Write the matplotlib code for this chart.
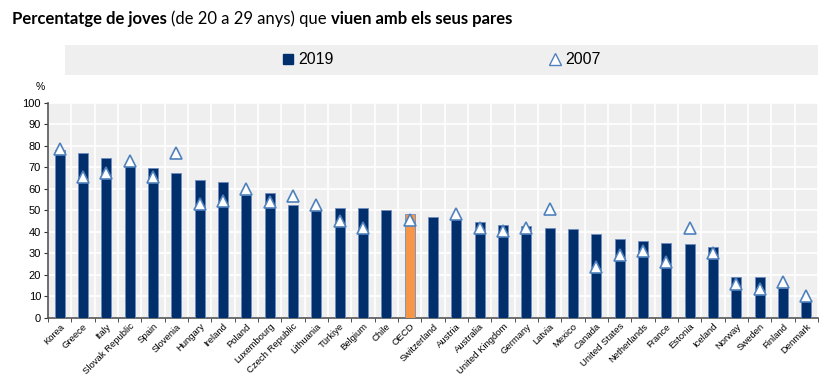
import matplotlib
matplotlib.use("Agg")
import numpy as np
import matplotlib.pyplot as plt
from matplotlib.lines import Line2D
from matplotlib.patches import Rectangle

countries = ["Korea", "Greece", "Italy", "Slovak Republic", "Spain", "Slovenia",
             "Hungary", "Ireland", "Poland", "Luxembourg", "Czech Republic",
             "Lithuania", "Türkiye", "Belgium", "Chile", "OECD", "Switzerland",
             "Austria", "Australia", "United Kingdom", "Germany", "Latvia",
             "Mexico", "Canada", "United States", "Netherlands", "France",
             "Estonia", "Iceland", "Norway", "Sweden", "Finland", "Denmark"]
share_2019 = [77.8, 76.6, 74.3, 70.5, 69.5, 67.4, 63.9, 63.3, 57.0, 58.1, 52.4,
              50.4, 51.0, 50.9, 50.1, 48.2, 46.8, 45.7, 44.3, 43.3, 42.6, 41.9,
              41.1, 38.8, 36.4, 35.5, 34.9, 34.4, 32.9, 19.1, 19.1, 14.0, 8.2]
share_2007 = [78.5, 65.3, 67.1, 73.0, 65.6, 76.7, 52.9, 54.4, 59.7, 53.8, 56.6,
              52.4, 45.1, 41.7, np.nan, 45.6, np.nan, 48.4, 41.6, 40.3, 41.6, 50.7,
              np.nan, 23.7, 29.1, 30.9, 25.7, 41.7, 29.9, 15.7, 13.2, 16.4, 10.2]
highlight = "OECD"

NAVY = "#002F6C"
ORANGE = "#F79646"
TRI = "#4F81BD"
BG = "#EFEFEF"

plt.rcParams["font.family"] = ["Liberation Sans Narrow", "Liberation Sans", "DejaVu Sans"]

fig = plt.figure(figsize=(8.3, 3.79), dpi=100)
ax = fig.add_axes([48 / 830, 61.3 / 379, 770 / 830, 215 / 379])
ax.set_facecolor(BG)

x = np.arange(len(countries))
colors = [ORANGE if c == highlight else NAVY for c in countries]
ax.bar(x, share_2019, width=0.42, color=colors, edgecolor="#6E8DBF",
       linewidth=0.6, zorder=3)
ax.plot(x, share_2007, linestyle="none", marker="^", markersize=9,
        markerfacecolor="white", markeredgecolor=TRI, markeredgewidth=1.2,
        zorder=4)

ax.set_xlim(-0.5, len(countries) - 0.5)
ax.set_ylim(0, 100)
ax.set_yticks(np.arange(0, 101, 10))
ax.set_xticks(x)
ax.set_xticklabels(countries, rotation=45, ha="right", rotation_mode="anchor",
                   fontsize=6.8)
ax.set_xticks(np.arange(-0.5, len(countries), 1), minor=True)
ax.tick_params(axis="x", which="major", length=0, pad=3)
ax.tick_params(axis="x", which="minor", length=3, color="#333333")
ax.tick_params(axis="y", length=3, labelsize=8, color="#333333", pad=2)
ax.grid(axis="y", which="major", color="white", linewidth=1.2, zorder=1)
ax.grid(axis="x", which="minor", color="white", linewidth=1.2, zorder=1)
ax.set_axisbelow(True)
for s in ["top", "right"]:
    ax.spines[s].set_visible(False)
for s in ["left", "bottom"]:
    ax.spines[s].set_color("#555555")
    ax.spines[s].set_linewidth(1.2)

fig.text(40 / 830, 1 - 87 / 379, "%", fontsize=7.5, ha="center", va="center")

# legend band
fig.patches.append(Rectangle((65 / 830, 1 - 75 / 379), 753 / 830, 30 / 379,
                             transform=fig.transFigure, facecolor=BG,
                             edgecolor="none", zorder=0))
handles = [Line2D([], [], linestyle="none", marker="s", markersize=7,
                  color=NAVY),
           Line2D([], [], linestyle="none", marker="^", markersize=9,
                  markerfacecolor="white", markeredgecolor=TRI,
                  markeredgewidth=1.0)]
fig.legend(handles, ["2019", "2007"], loc="center",
           bbox_to_anchor=(441 / 830, 1 - 60 / 379), ncol=2, frameon=False,
           fontsize=11.5, handlelength=0.8, handletextpad=0.2,
           columnspacing=13.5)

# title in mixed weights
parts = [("Percentatge de joves ", "bold"), ("(de 20 a 29 anys) que ", "normal"),
         ("viuen amb els seus pares", "bold")]
renderer = fig.canvas.get_renderer()
xpos = 12 / 830
for txt, w in parts:
    t = fig.text(xpos, 1 - 19 / 379, txt, fontsize=12, fontweight=w,
                 va="center", ha="left", family=["Lato", "DejaVu Sans"])
    bb = t.get_window_extent(renderer)
    xpos += bb.width / fig.bbox.width

fig.savefig("out.png", dpi=100)
